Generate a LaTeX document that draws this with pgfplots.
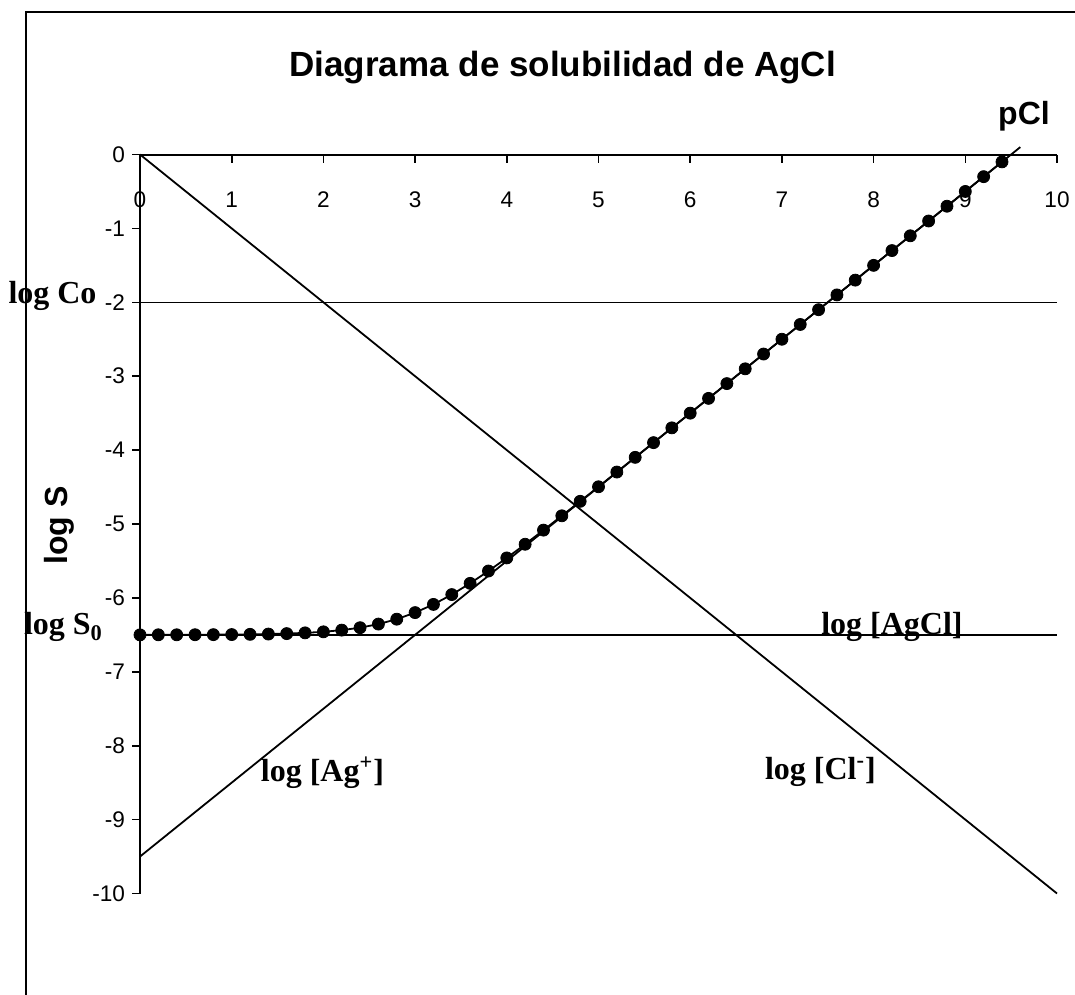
\documentclass[border=0pt]{standalone}
\usepackage{fontspec}
\setmainfont{Liberation Sans}
\newfontfamily\tnr{Liberation Serif}
\usepackage{pgfplots}
\pgfplotsset{compat=1.18}

\pgfplotstableread{
x y
0.0 -6.500
0.2 -6.499
0.4 -6.499
0.6 -6.498
0.8 -6.497
1.0 -6.496
1.2 -6.493
1.4 -6.489
1.6 -6.483
1.8 -6.473
2.0 -6.459
2.2 -6.436
2.4 -6.403
2.6 -6.354
2.8 -6.288
3.0 -6.199
3.2 -6.088
3.4 -5.955
3.6 -5.803
3.8 -5.636
4.0 -5.459
4.2 -5.274
4.4 -5.083
4.6 -4.889
4.8 -4.693
5.0 -4.496
5.2 -4.297
5.4 -4.098
5.6 -3.899
5.8 -3.699
6.0 -3.500
6.2 -3.300
6.4 -3.100
6.6 -2.900
6.8 -2.700
7.0 -2.500
7.2 -2.300
7.4 -2.100
7.6 -1.900
7.8 -1.700
8.0 -1.500
8.2 -1.300
8.4 -1.100
8.6 -0.900
8.8 -0.700
9.0 -0.500
9.2 -0.300
9.4 -0.100
}\logS

\begin{document}
\begin{tikzpicture}
\useasboundingbox (0,0) rectangle (537.5bp,-497.5bp);
\draw[line width=1bp] (12.75bp,-497.5bp) -- (12.75bp,-6bp) -- (537.5bp,-6bp);
\begin{axis}[
  at={(70bp,-77.25bp)}, anchor=origin,
  x=45.85bp, y=36.95bp,
  xmin=0, xmax=10, ymin=-10, ymax=0,
  axis x line=middle, axis y line=left,
  axis line style={-, line width=1bp},
  xtick={0,1,...,10}, ytick={-10,-9,...,0},
  tick style={black, line width=0.8bp},
  major tick length=4bp,
  tick align=outside,
  hide obscured x ticks=false, hide obscured y ticks=false,
  /pgf/number format/assume math mode=true,
  tick label style={font=\fontsize{11.3bp}{13bp}\selectfont},
  xticklabel style={anchor=base, yshift=-22.5bp},
  clip=false,
]
\addplot[black, line width=0.8bp] coordinates {(0,-2) (10,-2)};
\addplot[black, line width=0.8bp] coordinates {(0,-6.5) (10,-6.5)};
\addplot[black, line width=0.9bp] coordinates {(0,0) (10,-10)};
\addplot[black, line width=0.9bp] coordinates {(0,-9.5) (9.6,0.1)};
\addplot[black, line width=0.9bp] table[x=x,y=y] {\logS};
\addplot[only marks, mark=*, mark size=3bp, black] table[x=x,y=y] {\logS};

\node[font=\bfseries\fontsize{17.5bp}{20bp}\selectfont, anchor=base, inner sep=0] at (axis cs:4.61,1.05) {Diagrama de solubilidad de AgCl};
\node[font=\bfseries\fontsize{16bp}{18bp}\selectfont, anchor=base, inner sep=0] at (axis cs:9.64,0.4) {pCl};
\node[font=\bfseries\fontsize{16bp}{18bp}\selectfont, rotate=90, inner sep=0] at (axis cs:-0.88,-5.02) {log S};
\node[font=\tnr\bfseries\fontsize{16bp}{18bp}\selectfont, anchor=base east, inner sep=0] at (axis cs:-0.47,-2.02) {log Co};
\node[font=\tnr\bfseries\fontsize{16bp}{18bp}\selectfont, anchor=base east, inner sep=0] at (axis cs:-0.40,-6.5) {log S\textsubscript{0}};
\node[font=\tnr\bfseries\fontsize{16bp}{18bp}\selectfont, anchor=base, inner sep=0] at (axis cs:8.2,-6.49) {log [AgCl]};
\node[font=\tnr\bfseries\fontsize{16bp}{18bp}\selectfont, anchor=base, inner sep=0] at (axis cs:7.42,-8.46) {log [Cl\textsuperscript{-}]};
\node[font=\tnr\bfseries\fontsize{16bp}{18bp}\selectfont, anchor=base, inner sep=0] at (axis cs:1.99,-8.49) {log [Ag\textsuperscript{+}]};
\end{axis}
\end{tikzpicture}
\end{document}
